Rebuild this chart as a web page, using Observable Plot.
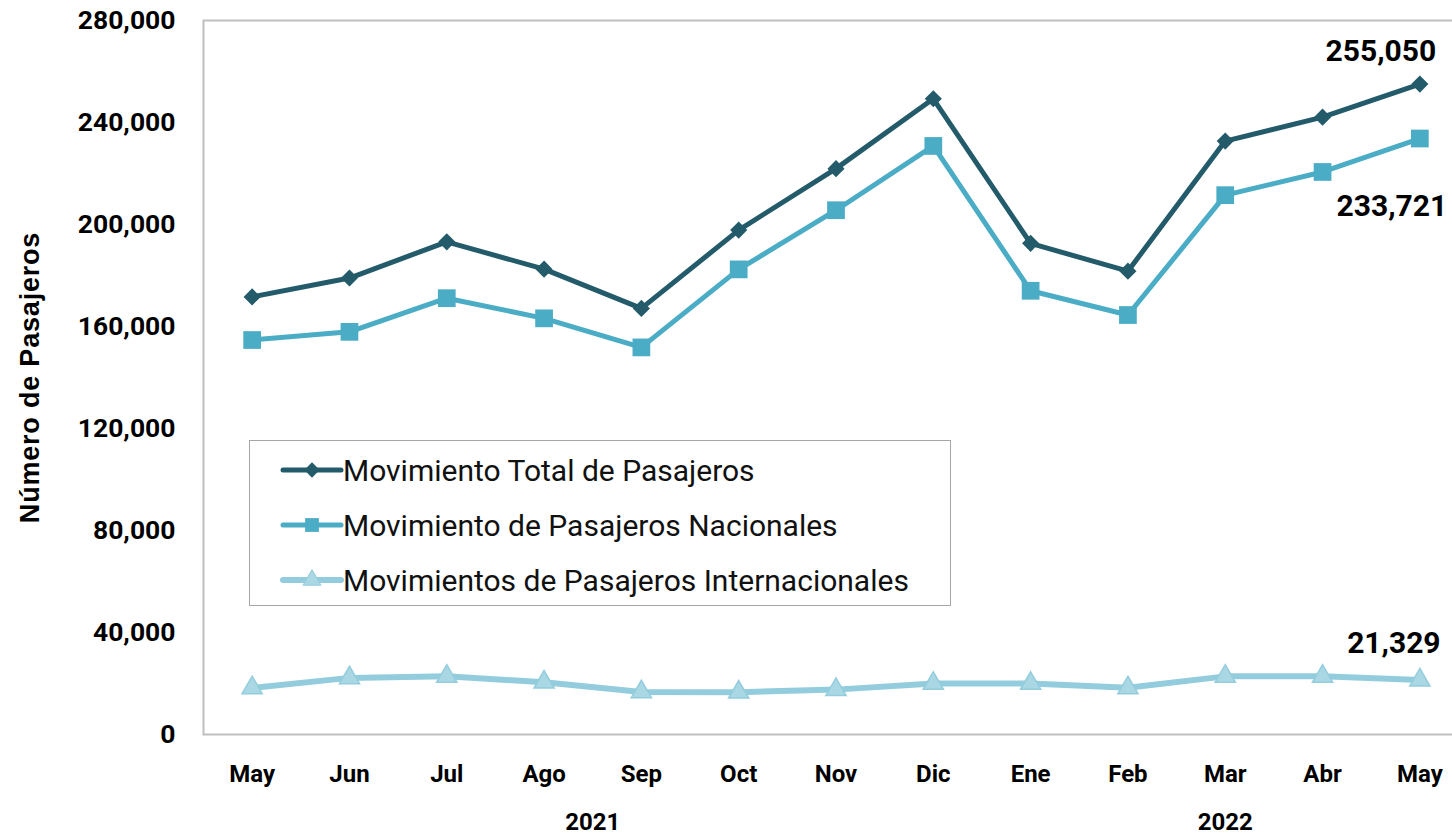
<!DOCTYPE html>
<html>
<head>
<meta charset="utf-8">
<script src="https://cdn.jsdelivr.net/npm/d3@7"></script>
<script src="https://cdn.jsdelivr.net/npm/@observablehq/plot@0.6"></script>
<style>
  html, body { margin: 0; padding: 0; background: #fff; }
  #wrap { position: relative; width: 1452px; height: 838px; overflow: hidden; }
  #legend { position: absolute; left: 249px; top: 440px; width: 702px; height: 166px;
            border: 1.5px solid #a6a6a6; background: #fff; box-sizing: border-box; }
  #legend svg { display: block; }
</style>
</head>
<body>
<div id="wrap"><div id="legend"></div></div>
<script>
// ---- data ----
const months = ["May","Jun","Jul","Ago","Sep","Oct","Nov","Dic","Ene","Feb","Mar","Abr","May"];
const years  = ["2021","2021","2021","2021","2021","2021","2021","2021","2022","2022","2022","2022","2022"];
const total           = [171600,179000,193200,182500,167100,197800,221900,249300,192600,181700,232700,242100,255050];
const nacionales      = [154700,157900,171100,163200,151800,182400,205600,230800,174000,164500,211500,220600,233721];
const internacionales = [18300,22200,22800,20500,16700,16600,17600,20000,20000,18300,22800,22800,21329];
const seriesNames = ["Movimiento Total de Pasajeros","Movimiento de Pasajeros Nacionales","Movimientos de Pasajeros Internacionales"];
const yTicks = [0,40000,80000,120000,160000,200000,240000,280000];
const yTitle = "Número de Pasajeros";

const colors = {total: "#235B6B", nac: "#4BACC6", intl: "#93CDDD"};

const rows = months.map((m, i) => ({i, month: m, year: years[i], total: total[i], nac: nacionales[i], intl: internacionales[i]}));
const yearGroups = d3.groups(rows, d => d.year).map(([year, rs]) => ({year, pos: d3.mean(rs, r => r.i)}));
const last = rows[rows.length - 1];
const fmt = d3.format(",");

const chart = Plot.plot({
  width: 1452,
  height: 838,
  marginLeft: 203,
  marginRight: -16,
  marginTop: 20,
  marginBottom: 104,
  style: {fontFamily: "Roboto, 'Liberation Sans', sans-serif", fontWeight: "bold", color: "#000", background: "transparent"},
  x: {type: "linear", domain: [-0.5, months.length - 0.5]},
  y: {domain: [0, 280000]},
  marks: [
    Plot.frame({stroke: "#bfbfbf", strokeWidth: 2}),
    Plot.axisY({ticks: yTicks, tickFormat: fmt, tickSize: 0, tickPadding: 28, fontSize: 26.5, label: null}),
    Plot.text([yTitle], {text: d => d, frameAnchor: "left", textAnchor: "middle", rotate: -90, dx: -173,
                         fontSize: 27, fontWeight: "bold", fontFamily: "'Liberation Sans', Arial, sans-serif"}),
    Plot.axisX({ticks: d3.range(months.length), tickFormat: i => months[i], tickSize: 0, tickPadding: 30, fontSize: 24, label: null}),
    Plot.text(yearGroups, {x: "pos", text: "year", frameAnchor: "bottom", dy: 95, fontSize: 24, fontWeight: "bold"}),
    // International
    Plot.line(rows, {x: "i", y: "intl", stroke: colors.intl, strokeWidth: 6}),
    Plot.dot(rows, {x: "i", y: "intl", symbol: "triangle", r: 7.5, fill: "#A9D7E3", stroke: colors.intl, strokeWidth: 1.5}),
    // National
    Plot.line(rows, {x: "i", y: "nac", stroke: colors.nac, strokeWidth: 5}),
    Plot.dot(rows, {x: "i", y: "nac", symbol: "square", r: 10, fill: colors.nac, stroke: "none"}),
    // Total
    Plot.line(rows, {x: "i", y: "total", stroke: colors.total, strokeWidth: 5}),
    Plot.dot(rows, {x: "i", y: "total", symbol: "diamond2", r: 7.7, fill: colors.total, stroke: "none"}),
    // end labels
    Plot.text([last], {x: "i", y: "total", text: d => fmt(d.total), dx: -39, dy: -33, fontSize: 30, fontWeight: "bold"}),
    Plot.text([last], {x: "i", y: "nac", text: d => fmt(d.nac), dx: -28, dy: 68, fontSize: 30, fontWeight: "bold"}),
    Plot.text([last], {x: "i", y: "intl", text: d => fmt(d.intl), dx: -26, dy: -37, fontSize: 30, fontWeight: "bold"})
  ]
});
document.getElementById("wrap").prepend(chart);
chart.querySelectorAll("text").forEach(t => { if (t.textContent === yTitle) t.setAttribute("letter-spacing", "0.8"); });

// ---- legend (inside plot area, as in the reference) ----
const lg = d3.select("#legend").append("svg").attr("width", 699).attr("height", 163);
const entries = [
  {name: seriesNames[0], color: colors.total, sym: d3.symbolDiamond2, size: 150, fill: colors.total, sw: 5},
  {name: seriesNames[1], color: colors.nac, sym: d3.symbolSquare, size: 190, fill: colors.nac, sw: 5},
  {name: seriesNames[2], color: colors.intl, sym: d3.symbolTriangle, size: 140, fill: "#A9D7E3", sw: 6}
];
entries.forEach((e, k) => {
  const g = lg.append("g").attr("transform", `translate(0,${29 + k * 55})`);
  g.append("line").attr("x1", 33).attr("x2", 91).attr("stroke", e.color).attr("stroke-width", e.sw).attr("stroke-linecap", "round");
  g.append("path").attr("d", d3.symbol(e.sym, e.size)()).attr("transform", "translate(62,0)").attr("fill", e.fill)
    .attr("stroke", e.sym === d3.symbolTriangle ? e.color : "none");
  g.append("text").attr("x", 93).attr("y", 0).attr("dy", "0.35em").attr("font-family", "Roboto, sans-serif")
    .attr("font-size", 30).attr("fill", "#111").text(e.name);
});
</script>
</body>
</html>
